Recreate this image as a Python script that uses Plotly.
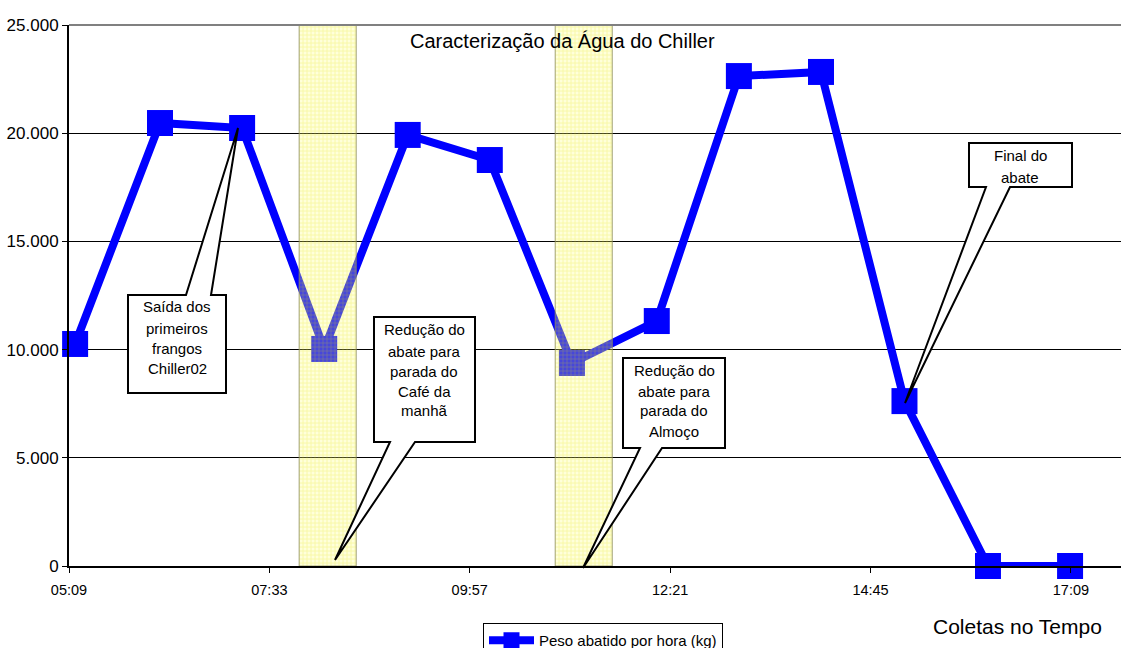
import plotly.graph_objects as go
from datetime import datetime

# ---------------- data ----------------
horarios = ["05:14", "06:15", "07:14", "08:13", "09:13", "10:12", "11:11",
            "12:12", "13:11", "14:10", "15:10", "16:10", "17:09"]
peso_kg = [10260, 20470, 20240, 10030, 19920, 18760, 9380,
           11320, 22640, 22830, 7620, 0, 0]
serie_nome = "Peso abatido por hora (kg)"

faixa_inicio = ["07:55", "10:59"]
faixa_fim = ["08:36", "11:40"]

callout_textos = [
    ["Saída dos", "primeiros", "frangos", "Chiller02"],
    ["Redução do", "abate para", "parada do", "Café da", "manhã"],
    ["Redução do", "abate para", "parada do", "Almoço"],
    ["Final do", "abate"],
]

titulo = "Caracterização da Água do Chiller"
eixo_x_titulo = "Coletas no Tempo"

# ---------------- helpers ----------------
DAY = "2000-01-01 "
def t(s):
    return datetime.strptime(DAY + s, "%Y-%m-%d %H:%M")

x_vals = [t(h) for h in horarios]
x0_axis = datetime(2000, 1, 1, 5, 9, 36)          # 0.215 day
x1_axis = datetime(2000, 1, 1, 17, 45, 36)        # 0.740 day

W, H = 1121, 648
L, R, T, B = 69, 0, 25, 82
PW, PH = W - L - R, H - T - B

def px(xp, yp):
    return (xp - L) / PW, (H - B - yp) / PH

FONT = "Liberation Sans, Arial, sans-serif"

fig = go.Figure()

fig.add_trace(go.Scatter(
    x=x_vals, y=peso_kg, mode="lines+markers", name=serie_nome,
    line=dict(color="#0000FF", width=8),
    marker=dict(symbol="square", size=26, color="#0000FF"),
    cliponaxis=False,
))

# yellow highlighted bands, on an overlaying axis so they sit above the line
centros, larguras = [], []
for a, b in zip(faixa_inicio, faixa_fim):
    ta, tb = t(a), t(b)
    centros.append(ta + (tb - ta) / 2)
    larguras.append((tb - ta).total_seconds() * 1000)
fig.add_trace(go.Bar(
    x=centros, y=[25000] * len(centros), width=larguras, base=0,
    xaxis="x2",
    marker=dict(color="rgba(255,255,120,0.30)",
                line=dict(color="rgba(140,140,90,0.8)", width=1),
                pattern=dict(shape="+", fgcolor="rgba(225,225,0,0.55)",
                             bgcolor="rgba(255,255,120,0.28)", size=4, solidity=0.35)),
    showlegend=False, hoverinfo="skip",
))

# ---------------- callouts ----------------
callouts = [
    dict(box=(128, 295, 226, 393), wb=(186, 211), tip=(238, 128), side="top",
         lines_y=(307, 328, 348, 368), cx=177),
    dict(box=(374, 317, 475, 442), wb=(390, 415), tip=(335, 560), side="bottom",
         lines_y=(329, 351, 371, 391, 411), cx=424),
    dict(box=(623, 358, 725, 448), wb=(640, 662), tip=(583, 568), side="bottom",
         lines_y=(370, 391, 411, 431), cx=674),
    dict(box=(969, 143, 1072, 187), wb=(986, 1010), tip=(905, 403), side="bottom",
         lines_y=(155, 177), cx=1020),
]

shapes = []
annotations = []
for c, textos in zip(callouts, callout_textos):
    x0, y0, x1, y1 = c["box"]
    wa, wb = c["wb"]
    tx, ty = c["tip"]
    if c["side"] == "top":
        pts = [(x0, y0), (wa, y0), (tx, ty), (wb, y0), (x1, y0), (x1, y1), (x0, y1)]
    else:
        pts = [(x0, y0), (x1, y0), (x1, y1), (wb, y1), (tx, ty), (wa, y1), (x0, y1)]
    p = [px(a, b) for a, b in pts]
    path = "M " + " L ".join(f"{a:.5f},{b:.5f}" for a, b in p) + " Z"
    shapes.append(dict(type="path", xref="paper", yref="paper", path=path,
                       fillcolor="white", line=dict(color="black", width=2),
                       layer="above"))
    for txt, ly in zip(textos, c["lines_y"]):
        ax, ay = px(c["cx"], ly)
        annotations.append(dict(x=ax, y=ay, xref="paper", yref="paper",
                                text=txt, showarrow=False,
                                xanchor="center", yanchor="middle",
                                font=dict(family=FONT, size=15, color="black")))

# top border (gray)
shapes.append(dict(type="line", xref="paper", yref="paper", x0=0, x1=1, y0=1, y1=1,
                   line=dict(color="#808080", width=2), layer="above"))

tx_, ty_ = px(562, 41)
annotations.append(dict(x=tx_, y=ty_, xref="paper", yref="paper", text=titulo,
                        showarrow=False, xanchor="center", yanchor="middle",
                        font=dict(family=FONT, size=20, color="black")))
ax_, ay_ = px(1017, 626)
annotations.append(dict(x=ax_, y=ay_, xref="paper", yref="paper", text=eixo_x_titulo,
                        showarrow=False, xanchor="center", yanchor="middle",
                        font=dict(family=FONT, size=21, color="black")))

lx, ly_ = px(603, 623)

fig.update_layout(
    width=W, height=H,
    margin=dict(l=L, r=R, t=T, b=B, autoexpand=False),
    paper_bgcolor="white", plot_bgcolor="white",
    separators=",.",
    showlegend=True,
    legend=dict(x=lx, y=ly_, xanchor="center", yanchor="top",
                bordercolor="black", borderwidth=1, bgcolor="white",
                font=dict(family=FONT, size=15, color="black"),
                itemwidth=45, tracegroupgap=0),
    shapes=shapes,
    annotations=annotations,
    font=dict(family=FONT, size=13, color="black"),
    barmode="overlay",
    xaxis2=dict(type="date", overlaying="x", range=[x0_axis, x1_axis],
                visible=False, showgrid=False),
    xaxis=dict(
        type="date", range=[x0_axis, x1_axis],
        tick0=x0_axis, dtick=144 * 60 * 1000, tickformat="%H:%M",
        showgrid=False, showline=True, linecolor="black", linewidth=2,
        ticks="outside", ticklen=5, tickcolor="black",
        tickfont=dict(family=FONT, size=14.5, color="black"),
        ticklabelstandoff=5, zeroline=False,
    ),
)
fig.update_yaxes(
    range=[0, 25000], tick0=0, dtick=5000, tickformat=",.0f",
    showgrid=True, gridcolor="black", gridwidth=1,
    showline=True, linecolor="black", linewidth=2,
    ticks="outside", ticklen=5, tickcolor="black",
    tickfont=dict(family=FONT, size=17, color="black"),
    zeroline=False,
)

fig.write_html("out.html")
